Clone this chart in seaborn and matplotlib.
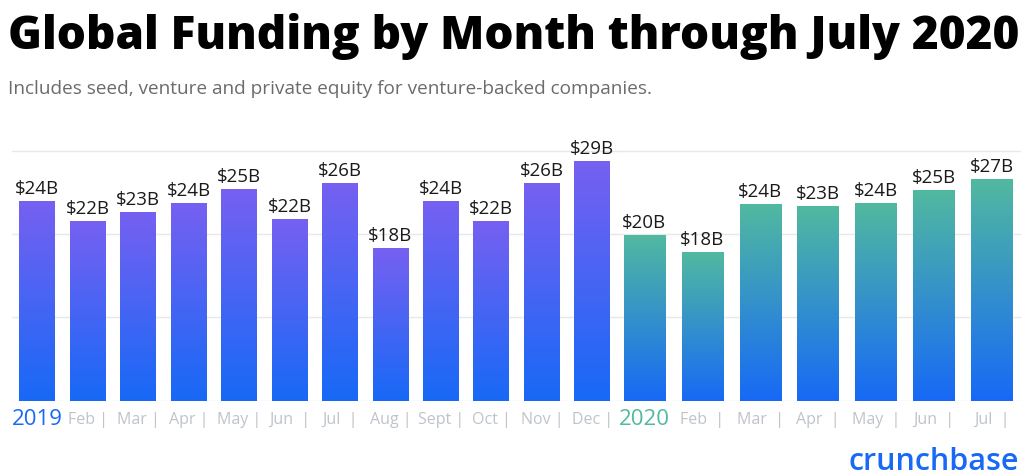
import numpy as np
import pandas as pd
import matplotlib
matplotlib.use("Agg")
import matplotlib.pyplot as plt
from matplotlib.colors import LinearSegmentedColormap
import seaborn as sns

# ---------------- data ----------------
months_2019 = ['2019', 'Feb |', 'Mar |', 'Apr |', 'May |', 'Jun  |', 'Jul  |',
               'Aug |', 'Sept |', 'Oct |', 'Nov |', 'Dec |']
values_2019 = [24.0, 21.6, 22.6, 23.7, 25.4, 21.8, 26.1, 18.3, 23.9, 21.6, 26.1, 28.8]
labels_2019 = ['$24B', '$22B', '$23B', '$24B', '$25B', '$22B', '$26B', '$18B',
               '$24B', '$22B', '$26B', '$29B']

months_2020 = ['2020', 'Feb  |', 'Mar  |', 'Apr  |', 'May  |', 'Jun  |', 'Jul  |']
values_2020 = [19.9, 17.8, 23.6, 23.4, 23.7, 25.3, 26.6]
labels_2020 = ['$20B', '$18B', '$24B', '$23B', '$24B', '$25B', '$27B']

title = "Global Funding by Month through July 2020"
subtitle = "Includes seed, venture and private equity for venture-backed companies."
brand = "crunchbase"

# ---------------- style ----------------
sns.set_theme(style="white")
plt.rcParams['font.family'] = ['Open Sans', 'DejaVu Sans']
FAM = ['Open Sans', 'DejaVu Sans']

BLUE = '#1769F6'
PURPLE = '#7660F1'
TEAL = '#51B9A0'
GRID = '#E8E8E8'
MONTH_GRAY = '#BFC3CA'

W, H = 1024, 477
fig = plt.figure(figsize=(W / 100, H / 100), dpi=100)

def px_axes(x0, x1, y_top, y_bottom):
    return fig.add_axes([x0 / W, 1 - y_bottom / H, (x1 - x0) / W, (y_bottom - y_top) / H])

YMAX = 31
base_px = 401.7
unit_px = 8.333
top_px = base_px - YMAX * unit_px

ax1 = px_axes(12.1, 617.5, top_px, base_px)
ax2 = px_axes(615.4, 1020.7, top_px, base_px)
ax2.patch.set_alpha(0)

def draw(ax, months, values, labels, top_color, year_color):
    df = pd.DataFrame({'month': months, 'value': values})
    sns.barplot(data=df, x='month', y='value', ax=ax, color=BLUE, width=0.71,
                order=months, errorbar=None, saturation=1)
    cmap = LinearSegmentedColormap.from_list('g', [BLUE, top_color])
    grad = np.linspace(0, 1, 256).reshape(-1, 1)
    for bar in ax.patches:
        x0, y0 = bar.get_x(), bar.get_y()
        w, h = bar.get_width(), bar.get_height()
        ax.imshow(grad, extent=[x0, x0 + w, y0, y0 + h], origin='lower',
                  aspect='auto', cmap=cmap, zorder=2, interpolation='bicubic')
        bar.set_facecolor('none')
        bar.set_edgecolor('none')
    ax.bar_label(ax.containers[0], labels=labels, padding=3, fontsize=13.5,
                 color='#1A1A1A', family=FAM, zorder=3)
    ax.set_xlim(-0.5, len(months) - 0.5)
    ax.set_ylim(0, YMAX)
    ax.set_yticks([0, 10, 20, 30])
    ax.set_yticklabels([])
    ax.yaxis.grid(True, color=GRID, linewidth=1)
    ax.xaxis.grid(False)
    ax.set_axisbelow(True)
    ax.set_xlabel('')
    ax.set_ylabel('')
    for s in ax.spines.values():
        s.set_visible(False)
    ax.tick_params(axis='both', length=0)
    ax.tick_params(axis='x', pad=13)
    for i, t in enumerate(ax.get_xticklabels()):
        t.set_verticalalignment('center')
        if i == 0:
            t.set_fontsize(16)
            t.set_color(year_color)
        else:
            t.set_fontsize(11.5)
            t.set_color(MONTH_GRAY)

draw(ax1, months_2019, values_2019, labels_2019, PURPLE, BLUE)
draw(ax2, months_2020, values_2020, labels_2020, TEAL, TEAL)

fig.text(8 / W, 1 - 36 / H, title, fontsize=33, fontweight=800, color='black',
         va='center', ha='left', family=FAM)
fig.text(8 / W, 1 - 89 / H, subtitle, fontsize=13.7, color='#6B6B6B',
         va='center', ha='left', family=FAM)
fig.text(1019 / W, 1 - 462 / H, brand, fontsize=22, fontweight='semibold', color=BLUE,
         va='center', ha='right', family=FAM)

fig.savefig('out.png', dpi=100)
